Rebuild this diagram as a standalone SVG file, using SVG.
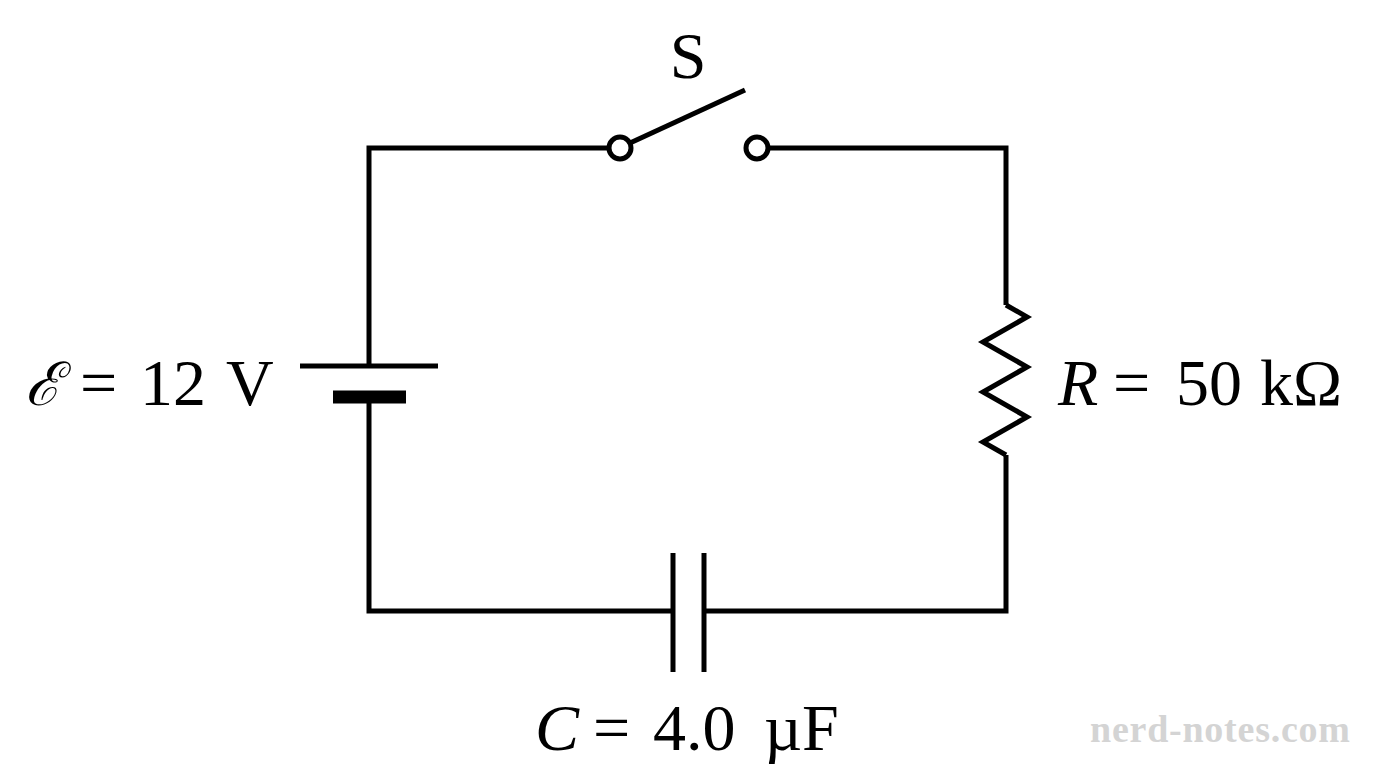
<svg xmlns="http://www.w3.org/2000/svg" width="1376" height="768" viewBox="0 0 1376 768">
<style>
.w{fill:none;stroke:#000;stroke-width:5;stroke-linejoin:miter}
.t{font-family:"Liberation Serif",serif;font-size:66px;fill:#000}
</style>
<rect width="1376" height="768" fill="#fff"/>
<g id="connectors">
<polyline class="w" points="609,148 369,148 369,366"/>
<polyline class="w" points="369,397 369,611 673,611"/>
<polyline class="w" points="768,148 1006,148 1006,305"/>
<polyline class="w" points="1006,455 1006,611 704,611"/>
</g>
<g id="switch">
<line class="w" x1="630" y1="143" x2="745" y2="90"/>
<circle cx="620" cy="148" r="11" fill="#fff" stroke="#000" stroke-width="5"/>
<circle cx="757" cy="148" r="11" fill="#fff" stroke="#000" stroke-width="5"/>
<text class="t" x="688" y="78" text-anchor="middle" font-size="58">S</text>
</g>
<g id="battery">
<line class="w" x1="300" y1="366" x2="438" y2="366"/>
<line x1="333" y1="397" x2="406" y2="397" stroke="#000" stroke-width="13"/>
<text class="t" y="405"><tspan x="25" font-family="'DejaVu Serif',serif" font-style="italic" font-size="60">ℰ</tspan><tspan x="80">=</tspan><tspan x="140">12</tspan><tspan x="226">V</tspan></text>
</g>
<g id="resistor">
<polyline class="w" points="1006,305 1027,317 983,342 1027,367 983,392 1027,417 983,442 1006,455"/>
<text class="t" y="405"><tspan x="1058" font-style="italic">R</tspan><tspan x="1113">=</tspan><tspan x="1176">50</tspan><tspan x="1260">kΩ</tspan></text>
</g>
<g id="capacitor">
<line class="w" x1="673" y1="553" x2="673" y2="672"/>
<line class="w" x1="704" y1="553" x2="704" y2="672"/>
<text class="t" y="750"><tspan x="535" font-style="italic">C</tspan><tspan x="593">=</tspan><tspan x="653">4.0</tspan><tspan x="764">µF</tspan></text>
</g>
<text x="1090" y="742" font-family="'Liberation Serif',serif" font-size="38" font-weight="bold" fill="#d4d4d4" textLength="260">nerd-notes.com</text>
</svg>
